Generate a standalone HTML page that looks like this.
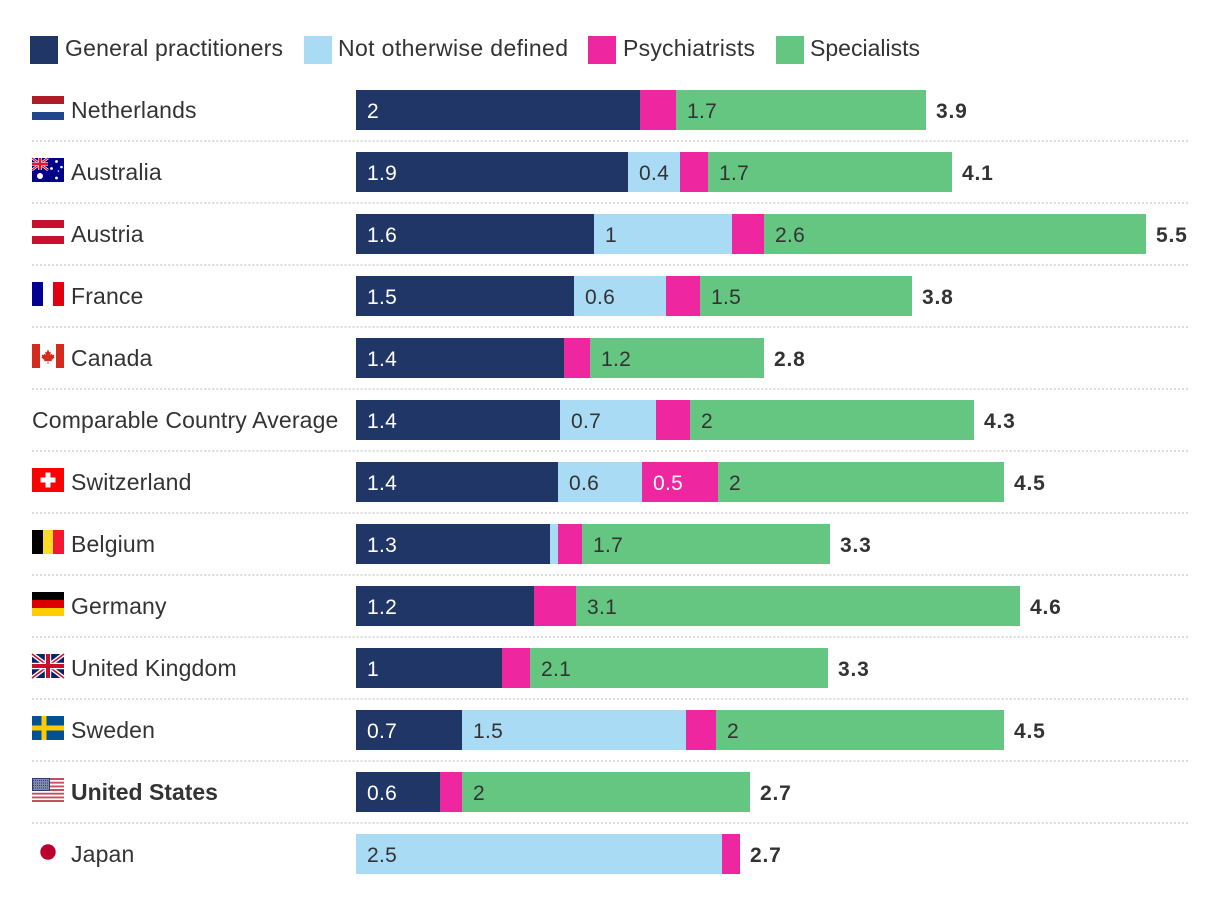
<!DOCTYPE html>
<html lang="en">
<head>
<meta charset="utf-8">
<title>Physicians per 1,000 people by type</title>
<style>
html,body{margin:0;padding:0;background:#fff;width:1220px;height:906px;overflow:hidden}
svg{display:block}
text{font-family:"Liberation Sans",sans-serif;fill:#333}
.name{font-size:23px;letter-spacing:.15px}
.legend{font-size:23px}
.val{font-size:21px;letter-spacing:.3px}
.tot{font-size:21px;font-weight:bold;letter-spacing:.8px}
</style>
</head>
<body>
<svg id="chart" xmlns="http://www.w3.org/2000/svg" width="1220" height="906" viewBox="0 0 1220 906">
  <rect x="0" y="0" width="1220" height="906" fill="#fff"/>

  <g>
    <g>
      <rect x="30" y="36" width="28" height="28" fill="#1f3666"/>
      <text class="legend" x="65" y="56" textLength="218">General practitioners</text>
    </g>
    <g>
      <rect x="304" y="36" width="28" height="28" fill="#a9dbf5"/>
      <text class="legend" x="338" y="56" textLength="230">Not otherwise defined</text>
    </g>
    <g>
      <rect x="588" y="36" width="28" height="28" fill="#ee27a0"/>
      <text class="legend" x="623" y="56" textLength="132">Psychiatrists</text>
    </g>
    <g>
      <rect x="776" y="36" width="28" height="28" fill="#64c680"/>
      <text class="legend" x="810" y="56" textLength="110">Specialists</text>
    </g>
  </g>

  <g id="rows"></g>

  <g>
    <g transform="translate(32,96)">
      <rect width="32" height="8" fill="#ae1c28"/><rect y="16" width="32" height="8" fill="#21468b"/>
    </g>
    <g transform="translate(32,158)">
      <rect width="32" height="24" fill="#00008b"/>
      <path d="M0 0L16 12M16 0L0 12" stroke="#fff" stroke-width="2.6"/>
      <path d="M0 0L16 12M16 0L0 12" stroke="#e8112d" stroke-width="1.2"/>
      <path d="M8 0V12M0 6H16" stroke="#fff" stroke-width="3.6"/>
      <path d="M8 0V12M0 6H16" stroke="#e8112d" stroke-width="2.4"/>
      <circle cx="8" cy="18" r="3" fill="#fff"/><circle cx="24.5" cy="3.5" r="1.4" fill="#fff"/>
      <circle cx="19.5" cy="10.5" r="1.4" fill="#fff"/><circle cx="29.5" cy="9" r="1.3" fill="#fff"/>
      <circle cx="26.5" cy="13" r=".8" fill="#fff"/><circle cx="24.5" cy="20" r="1.4" fill="#fff"/>
    </g>
    <g transform="translate(32,220)">
      <rect width="32" height="8" fill="#c8102e"/><rect y="16" width="32" height="8" fill="#c8102e"/>
    </g>
    <g transform="translate(32,282)">
      <rect width="11" height="24" fill="#000091"/><rect x="21" width="11" height="24" fill="#e1000f"/>
    </g>
    <g transform="translate(32,344)">
      <rect width="8" height="24" fill="#d52b1e"/><rect x="24" width="8" height="24" fill="#d52b1e"/>
      <path d="M16 5.5L17.4 8.3L18.8 7.7L18.3 11L19.9 9.8L20.4 11L22.3 10.7L21.8 12.9L22.6 13.5L19.6 16L20 17.3L16.4 16.9V20H15.6V16.9L12 17.3L12.4 16L9.4 13.5L10.2 12.9L9.7 10.7L11.6 11L12.1 9.8L13.7 11L13.2 7.7L14.6 8.3Z" fill="#d52b1e"/>
    </g>
    <g transform="translate(32,468)">
      <rect width="32" height="24" fill="#ff0000"/>
      <rect x="8.5" y="9.5" width="15" height="5" fill="#fff"/><rect x="13.5" y="4.5" width="5" height="15" fill="#fff"/>
    </g>
    <g transform="translate(32,530)">
      <rect width="11" height="24" fill="#000"/><rect x="11" width="10" height="24" fill="#fdda24"/><rect x="21" width="11" height="24" fill="#f31830"/>
    </g>
    <g transform="translate(32,592)">
      <rect width="32" height="8" fill="#000"/><rect y="8" width="32" height="8" fill="#dd0000"/><rect y="16" width="32" height="8" fill="#ffce00"/>
    </g>
    <g transform="translate(32,654)">
      <rect width="32" height="24" fill="#012169"/>
      <path d="M0 0L32 24M32 0L0 24" stroke="#fff" stroke-width="4.4"/>
      <path d="M0 0L32 24M32 0L0 24" stroke="#c8102e" stroke-width="1.6"/>
      <path d="M16 0V24M0 12H32" stroke="#fff" stroke-width="6.4"/>
      <path d="M16 0V24M0 12H32" stroke="#c8102e" stroke-width="4"/>
    </g>
    <g transform="translate(32,716)">
      <rect width="32" height="24" fill="#005293"/>
      <rect x="9.5" width="5" height="24" fill="#fecb00"/><rect y="9.5" width="32" height="5" fill="#fecb00"/>
    </g>
    <g transform="translate(32,778)">
      <rect width="32" height="24" fill="#fff"/>
      <path d="M0 1H32M0 4.7H32M0 8.4H32M0 12H32M0 15.7H32M0 19.4H32M0 23H32" stroke="#c4505f" stroke-width="1.9"/>
      <rect width="18" height="13" fill="#2c3a6e"/>
      <rect x="1" y="1" width="16" height="11" fill="#7f8bb0"/>
      <path d="M1 2.5H17M1 5H17M1 7.5H17M1 10H17" stroke="#2c3a6e" stroke-width="1" stroke-dasharray="1 1"/>
    </g>
    <circle cx="48" cy="852" r="7.7" fill="#bc002d"/>
  </g>
</svg>

<script>
const categories = ["Netherlands","Australia","Austria","France","Canada","Comparable Country Average","Switzerland","Belgium","Germany","United Kingdom","Sweden","United States","Japan"];
const generalPractitioners = [1.97,1.89,1.65,1.51,1.44,1.42,1.40,1.35,1.24,1.01,0.74,0.58,0];
const notOtherwiseDefined = [0,0.36,0.96,0.64,0,0.67,0.58,0.05,0,0,1.55,0,2.54];
const psychiatrists = [0.25,0.19,0.22,0.24,0.18,0.23,0.53,0.17,0.29,0.20,0.21,0.16,0.13];
const specialists = [1.74,1.70,2.65,1.47,1.21,1.97,1.99,1.72,3.08,2.07,2.00,1.99,0];
const generalPractitionerLabels = ["2","1.9","1.6","1.5","1.4","1.4","1.4","1.3","1.2","1","0.7","0.6",""];
const notOtherwiseDefinedLabels = ["","0.4","1","0.6","","0.7","0.6","","","","1.5","","2.5"];
const psychiatristLabels = ["","","","","","","0.5","","","","","",""];
const specialistLabels = ["1.7","1.7","2.6","1.5","1.2","2","2","1.7","3.1","2.1","2","2",""];
const totalLabels = ["3.9","4.1","5.5","3.8","2.8","4.3","4.5","3.3","4.6","3.3","4.5","2.7","2.7"];

const seriesNames = ["general-practitioners","not-otherwise-defined","psychiatrists","specialists"];
const seriesColors = ["#1f3666","#a9dbf5","#ee27a0","#64c680"];
const seriesTextColors = ["#fff","#333","#fff","#333"];

const NS = "http://www.w3.org/2000/svg";
const rowsGroup = document.getElementById("rows");

function xScale(value) {
  return 356 + Math.round(value * 144 / 2) * 2;
}
function rowTop(index) {
  return 90 + index * 62;
}
function slug(name) {
  return name.toLowerCase().replace(/\s+/g, "-");
}

categories.forEach(function (category, i) {
  const top = rowTop(i);
  const key = slug(category);

  const row = document.createElementNS(NS, "g");
  
  
  rowsGroup.appendChild(row);

  const label = document.createElementNS(NS, "text");
  
  
  label.setAttribute("class", "name");
  const hasFlag = category !== "Comparable Country Average";
  label.setAttribute("x", hasFlag ? 71 : 32);
  label.setAttribute("y", top + 28);
  if (category === "United States") {
    label.setAttribute("font-weight", "bold");
    label.style.letterSpacing = "0";
  }
  label.textContent = category;
  row.appendChild(label);

  const values = [generalPractitioners[i], notOtherwiseDefined[i], psychiatrists[i], specialists[i]];
  const labels = [generalPractitionerLabels[i], notOtherwiseDefinedLabels[i], psychiatristLabels[i], specialistLabels[i]];
  let cumulative = 0;
  values.forEach(function (value, s) {
    if (value <= 0) {
      return;
    }
    const x0 = xScale(cumulative);
    cumulative += value;
    const x1 = xScale(cumulative);

    const bar = document.createElementNS(NS, "rect");
    
    
    bar.setAttribute("x", x0);
    bar.setAttribute("y", top);
    bar.setAttribute("width", x1 - x0);
    bar.setAttribute("height", 40);
    bar.setAttribute("fill", seriesColors[s]);
    row.appendChild(bar);

    if (labels[s]) {
      const valueText = document.createElementNS(NS, "text");
      
      
      valueText.setAttribute("class", "val");
      valueText.setAttribute("x", x0 + 11);
      valueText.setAttribute("y", top + 28);
      valueText.style.fill = seriesTextColors[s];
      valueText.textContent = labels[s];
      row.appendChild(valueText);
    }
  });

  const total = document.createElementNS(NS, "text");
  
  
  total.setAttribute("class", "tot");
  total.setAttribute("x", xScale(cumulative) + 10);
  total.setAttribute("y", top + 28);
  total.textContent = totalLabels[i];
  row.appendChild(total);

  if (i < categories.length - 1) {
    const rule = document.createElementNS(NS, "line");
    
    
    rule.setAttribute("x1", 32);
    rule.setAttribute("x2", 1188);
    rule.setAttribute("y1", top + 51);
    rule.setAttribute("y2", top + 51);
    rule.setAttribute("stroke", "#dcdcdc");
    rule.setAttribute("stroke-width", 2);
    rule.setAttribute("stroke-dasharray", "2 2.0069");
    row.appendChild(rule);
  }
});
</script>
</body>
</html>
